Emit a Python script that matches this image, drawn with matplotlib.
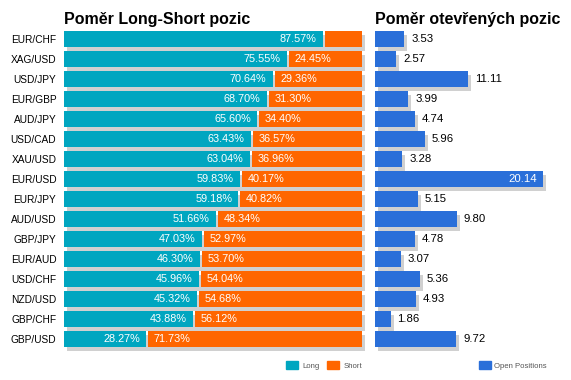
import matplotlib.pyplot as plt
from matplotlib.patches import Patch

pairs = ['EUR/CHF', 'XAG/USD', 'USD/JPY', 'EUR/GBP', 'AUD/JPY', 'USD/CAD', 'XAU/USD', 'EUR/USD',
         'EUR/JPY', 'AUD/USD', 'GBP/JPY', 'EUR/AUD', 'USD/CHF', 'NZD/USD', 'GBP/CHF', 'GBP/USD']
long_pct = [87.57, 75.55, 70.64, 68.70, 65.60, 63.43, 63.04, 59.83,
            59.18, 51.66, 47.03, 46.30, 45.96, 45.32, 43.88, 28.27]
short_pct = [12.43, 24.45, 29.36, 31.30, 34.40, 36.57, 36.96, 40.17,
             40.82, 48.34, 52.97, 53.70, 54.04, 54.68, 56.12, 71.73]
open_pos = [3.53, 2.57, 11.11, 3.99, 4.74, 5.96, 3.28, 20.14,
            5.15, 9.80, 4.78, 3.07, 5.36, 4.93, 1.86, 9.72]

TEAL = '#00a6c0'
ORANGE = '#ff6600'
BLUE = '#2a6fd9'
SHADOW = '#d0d0d0'

W, H = 571, 380
plt.rcParams['font.family'] = ['Liberation Sans', 'DejaVu Sans']


def px(x0, y0, w, h):
    # pixel box (from top-left) -> figure fraction
    return [x0 / W, 1 - (y0 + h) / H, w / W, h / H]


fig = plt.figure(figsize=(W / 100, H / 100), dpi=100)

# ---- left panel: long / short ratio
ax1 = fig.add_axes(px(64, 29, 298, 320))
ax1.set_xlim(0, 100)
ax1.set_ylim(len(pairs) - 0.5, -0.5)
y = list(range(len(pairs)))
gap = 2 / 298 * 100
sx = 3 / 298 * 100
sy = 4 / 20

ax1.barh([v + sy for v in y], [100] * len(y), left=sx, height=0.8, color=SHADOW, clip_on=False, zorder=1)
ax1.barh(y, [l - gap for l in long_pct], height=0.8, color=TEAL, zorder=2)
ax1.barh(y, short_pct, left=long_pct, height=0.8, color=ORANGE, zorder=2)

for i, (l, s) in enumerate(zip(long_pct, short_pct)):
    ax1.annotate(f'{l:.2f}%', (l - gap, i), xytext=(-4.5, 0), textcoords='offset points',
                 ha='right', va='center', color='white', fontsize=7.8, zorder=3)
    if s > 15:
        ax1.annotate(f'{s:.2f}%', (l, i), xytext=(4, 0), textcoords='offset points',
                     ha='left', va='center', color='white', fontsize=7.8, zorder=3)

ax1.set_yticks(y)
ax1.set_yticklabels(pairs, fontsize=7.3)
ax1.tick_params(axis='y', length=0, pad=5.5)
ax1.set_xticks([])
for sp in ax1.spines.values():
    sp.set_visible(False)

# ---- right panel: open positions
scale = 20.14 / 168
ax2 = fig.add_axes(px(375, 29, 196, 320))
ax2.set_xlim(0, 196 * scale)
ax2.set_ylim(len(pairs) - 0.5, -0.5)
ax2.barh([v + sy for v in y], open_pos, left=3 * scale, height=0.8, color=SHADOW, clip_on=False, zorder=1)
ax2.barh(y, open_pos, height=0.8, color=BLUE, zorder=2)
vmax = max(open_pos)
for i, v in enumerate(open_pos):
    if v == vmax:
        ax2.annotate(f'{v:.2f}', (v, i), xytext=(-4, 0), textcoords='offset points',
                     ha='right', va='center', color='white', fontsize=8.2, zorder=3)
    else:
        ax2.annotate(f'{v:.2f}', (v, i), xytext=(5, 0), textcoords='offset points',
                     ha='left', va='center', color='black', fontsize=8.2, zorder=3)
ax2.set_xticks([])
ax2.set_yticks([])
for sp in ax2.spines.values():
    sp.set_visible(False)

# ---- titles
fig.text(64 / W, 1 - 24 / H, 'Poměr Long-Short pozic', fontsize=11.5, fontweight='bold', va='baseline')
fig.text(375 / W, 1 - 24 / H, 'Poměr otevřených pozic', fontsize=11.5, fontweight='bold', va='baseline')

# ---- legends
leg_kw = dict(frameon=False, fontsize=5.6, handlelength=1.55, handleheight=1.3,
              handletextpad=0.5, columnspacing=1.05, borderpad=0, labelcolor='#555555')
ax1.legend(handles=[Patch(color=TEAL, label='Long'), Patch(color=ORANGE, label='Short')],
           ncol=2, loc='upper right', bbox_to_anchor=(366 / W, 1 - 357 / H),
           bbox_transform=fig.transFigure, **leg_kw)
ax2.legend(handles=[Patch(color=BLUE, label='Open Positions')],
           loc='upper right', bbox_to_anchor=(551 / W, 1 - 357 / H),
           bbox_transform=fig.transFigure, **leg_kw)

fig.savefig('out.png', dpi=100)
